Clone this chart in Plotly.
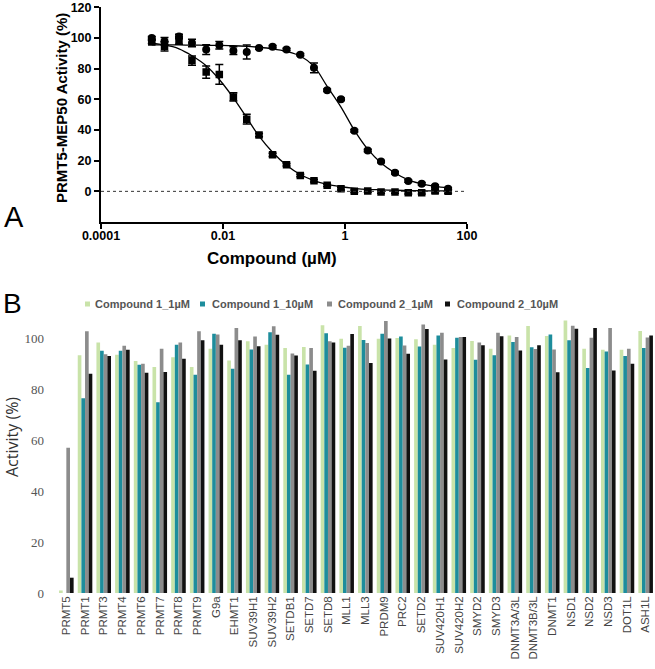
import plotly.graph_objects as go

W, H = 655, 669

# ---------------- Panel A data ----------------
conc = [0.00068, 0.0011, 0.0019, 0.0031, 0.0053, 0.0087, 0.0148, 0.0245, 0.039, 0.065,
        0.11, 0.185, 0.31, 0.51, 0.86, 1.42, 2.36, 3.9, 6.6, 10.9, 18.1, 30, 49]
circle_vals = [100, 97.9, 101, 96.8, 92.5, 95.3, 91.8, 90.9, 93.5, 94.4, 92.5, 89.2, 80.6,
               65.9, 60.1, 39.5, 26.6, 19.4, 12.1, 6.7, 5.0, 3.4, 1.7]
circle_err = [1, 2.5, 1.5, 2.5, 3.2, 2.5, 2.5, 4.5, 0.8, 0.8, 0.8, 0.8, 3.2, 0.8, 0.8, 0.8,
              0.8, 0.8, 0.8, 0.8, 0.8, 0.8, 0.8]
circle_fit = [95.5, 95.5, 95.5, 95.4, 95.3, 95.2, 95, 94.6, 94, 93, 91.3, 88.3, 81.5, 68.5,
              55, 40, 27.5, 18.5, 12, 7.5, 4.8, 3.2, 2.3]
square_vals = [97.4, 94.6, 98, 85.3, 77.8, 76.3, 61.6, 47.1, 36.7, 23.8, 17.3, 10.4, 6.9,
               3.9, 1.7, 0, 0.2, -0.5, -0.5, -0.9, -0.9, 0.2, 0]
square_err = [1, 3, 2, 3, 4, 6.5, 2.7, 3.2, 1, 1, 0.8, 0.8, 0.8, 0.8, 0.8, 0.8, 0.8, 0.8,
              0.8, 0.8, 0.8, 1.2, 1.2]
square_fit = [96.5, 95.5, 93, 88.5, 82, 73, 61, 48, 36, 25.5, 17, 11, 7, 4.5, 3, 2, 1.3,
              1, 0.7, 0.5, 0.4, 0.3, 0.3]
a_xticks = [0.0001, 0.01, 1, 100]
a_xticktext = ["0.0001", "0.01", "1", "100"]
a_yticks = [0, 20, 40, 60, 80, 100, 120]

# ---------------- Panel B data ----------------
targets = ["PRMT5", "PRMT1", "PRMT3", "PRMT4", "PRMT6", "PRMT7", "PRMT8", "PRMT9", "G9a",
           "EHMT1", "SUV39H1", "SUV39H2", "SETDB1", "SETD7", "SETD8", "MLL1", "MLL3",
           "PRDM9", "PRC2", "SETD2", "SUV420H1", "SUV420H2", "SMYD2", "SMYD3",
           "DNMT3A/3L", "DNMT3B/3L", "DNMT1", "NSD1", "NSD2", "NSD3", "DOT1L", "ASH1L"]
c1_1uM = [1, 93.2, 98.2, 93.4, 91, 88.6, 92.5, 88.6, 95.8, 91.2, 98.7, 97.4, 96.1, 96.5,
          105, 99.7, 104.7, 99.7, 100, 99.5, 97.4, 96.1, 98.8, 95.8, 101, 104.7, 100.8,
          106.9, 95.8, 95.4, 95.4, 102.7]
c1_10uM = [0, 76.4, 95, 95, 89.5, 74.8, 97.4, 85.6, 101.7, 87.9, 95.5, 102.3, 85.6, 89.6,
           101.9, 96.2, 99.2, 101.7, 100.6, 96.7, 101, 100.1, 91.5, 93.2, 98.4, 96.4,
           101.4, 99.1, 88.2, 94.7, 92.9, 96.1]
c2_1uM = [57, 102.6, 93.6, 97, 89.9, 95.8, 98.2, 102.6, 101.4, 103.9, 100.6, 104.6, 93.9,
          96.1, 98.7, 97, 98, 106.7, 97.1, 105.3, 102.1, 100.4, 98.2, 102.1, 100.4, 95.7,
          95.5, 104.8, 100.1, 103.9, 95.8, 100.2]
c2_10uM = [6, 86, 92.9, 95.4, 86.4, 86.7, 91.9, 99.1, 97.4, 99.1, 96.8, 101.3, 93.1, 87.2,
           98.2, 101.6, 90.2, 99.8, 93.8, 103.5, 91.6, 100.4, 97.2, 100.7, 95.1, 97.2,
           86.6, 103.6, 103.9, 87.3, 89.9, 101]
b_series = ["Compound 1_1µM", "Compound 1_10µM", "Compound 2_1µM", "Compound 2_10µM"]
b_colors = ["#c9e3a9", "#1d8d9c", "#8c8c8c", "#111111"]
b_yticks = [0, 20, 40, 60, 80, 100]

fig = go.Figure()

# Panel A fits
for fit in (circle_fit, square_fit):
    fig.add_trace(go.Scatter(x=conc, y=fit, mode="lines", line=dict(color="black", width=1.3,
                                                                    shape="spline"),
                             xaxis="x", yaxis="y", hoverinfo="skip"))
# Panel A points
fig.add_trace(go.Scatter(x=conc, y=circle_vals, mode="markers",
                         marker=dict(symbol="circle", size=8, color="black"),
                         error_y=dict(type="data", array=circle_err, color="black",
                                      thickness=1.5, width=4),
                         xaxis="x", yaxis="y", name="circle"))
fig.add_trace(go.Scatter(x=conc, y=square_vals, mode="markers",
                         marker=dict(symbol="square", size=7.5, color="black"),
                         error_y=dict(type="data", array=square_err, color="black",
                                      thickness=1.5, width=4),
                         xaxis="x", yaxis="y", name="square"))

# Panel B bars
for name, vals, col in zip(b_series, [c1_1uM, c1_10uM, c2_1uM, c2_10uM], b_colors):
    fig.add_trace(go.Bar(x=targets, y=vals, name=name, marker=dict(color=col, line=dict(width=0)),
                         xaxis="x2", yaxis="y2"))

bold_font = dict(family="Arial, Liberation Sans", size=12.5, color="black", weight="bold")

def px(x):
    return x / W

def py(y):
    return 1 - y / H

def ann(text, x, y, size, color="black", angle=0, family="Arial, Liberation Sans",
        xanchor="center"):
    return dict(text=text, x=px(x), y=py(y), xref="paper", yref="paper", textangle=angle,
                showarrow=False, xanchor=xanchor, yanchor="middle",
                font=dict(family=family, size=size, color=color))

annotations = [
    ann("<b>PRMT5-MEP50 Activity (%)</b>", 61, 108, 15, angle=-90),
    ann("<b>Compound (µM)</b>", 272, 258, 17),
    ann("A", 14, 217, 29),
    ann("B", 12, 303, 28),
    ann("Activity (%)", 12, 437, 16, color="#333333", angle=-90,
        family="Open Sans, Liberation Sans"),
]

shapes = [
    dict(type="line", xref="x domain", yref="y", x0=0, x1=1, y0=0, y1=0,
         line=dict(color="#333333", width=1, dash="dot")),
]

legend_marker_x = [88, 203, 330, 448]
legend_text_x = [93, 210, 336, 455]
for name, col, mx, tx in zip(b_series, b_colors, legend_marker_x, legend_text_x):
    shapes.append(dict(type="rect", xref="paper", yref="paper",
                       x0=px(mx - 3), x1=px(mx + 2), y0=py(306.5), y1=py(301.5),
                       fillcolor=col, line=dict(width=0)))
    annotations.append(ann("<b>" + name + "</b>", tx, 304, 11, color="#555555",
                           xanchor="left"))

fig.update_layout(
    width=W, height=H, margin=dict(l=0, r=0, t=0, b=0, autoexpand=False),
    paper_bgcolor="white", plot_bgcolor="white", showlegend=False,
    barmode="group", bargap=0.22, bargroupgap=0,
    xaxis=dict(type="log", range=[-4, 2], domain=[px(101), px(467)], anchor="y",
               automargin=False, ticklabelstandoff=-4,
               showline=True, linewidth=2, linecolor="black", ticks="outside", ticklen=5,
               tickwidth=2, tickcolor="black", tickvals=a_xticks, ticktext=a_xticktext,
               tickfont=bold_font, showgrid=False, zeroline=False),
    yaxis=dict(range=[-20, 120.6], domain=[py(222), py(6.5)], anchor="x", automargin=False,
               ticklabeloverflow="allow",
               showline=True, linewidth=2, linecolor="black", ticks="outside", ticklen=5,
               tickwidth=2, tickcolor="black", tickvals=a_yticks, tickfont=bold_font,
               showgrid=False, zeroline=False),
    xaxis2=dict(domain=[px(57), 1], range=[-0.5, 31.5], anchor="y2", showline=False,
                automargin=False, ticklabeloverflow="allow",
                ticks="", tickangle=-90, showgrid=False, zeroline=False,
                tickfont=dict(family="Liberation Sans, Arial", size=11.5, color="#444444")),
    yaxis2=dict(domain=[py(593), py(312.5)], range=[0, 110], anchor="x2", showline=False,
                automargin=False,
                ticks="", tickvals=b_yticks, showgrid=False, zeroline=False,
                ticklabelstandoff=12,
                tickfont=dict(family="Liberation Serif, DejaVu Serif", size=13,
                              color="#555555")),
    annotations=annotations, shapes=shapes,
)

fig.write_html("out.html", config={"displayModeBar": False},
               post_script="document.body.style.margin='0';document.body.style.padding='0';")
